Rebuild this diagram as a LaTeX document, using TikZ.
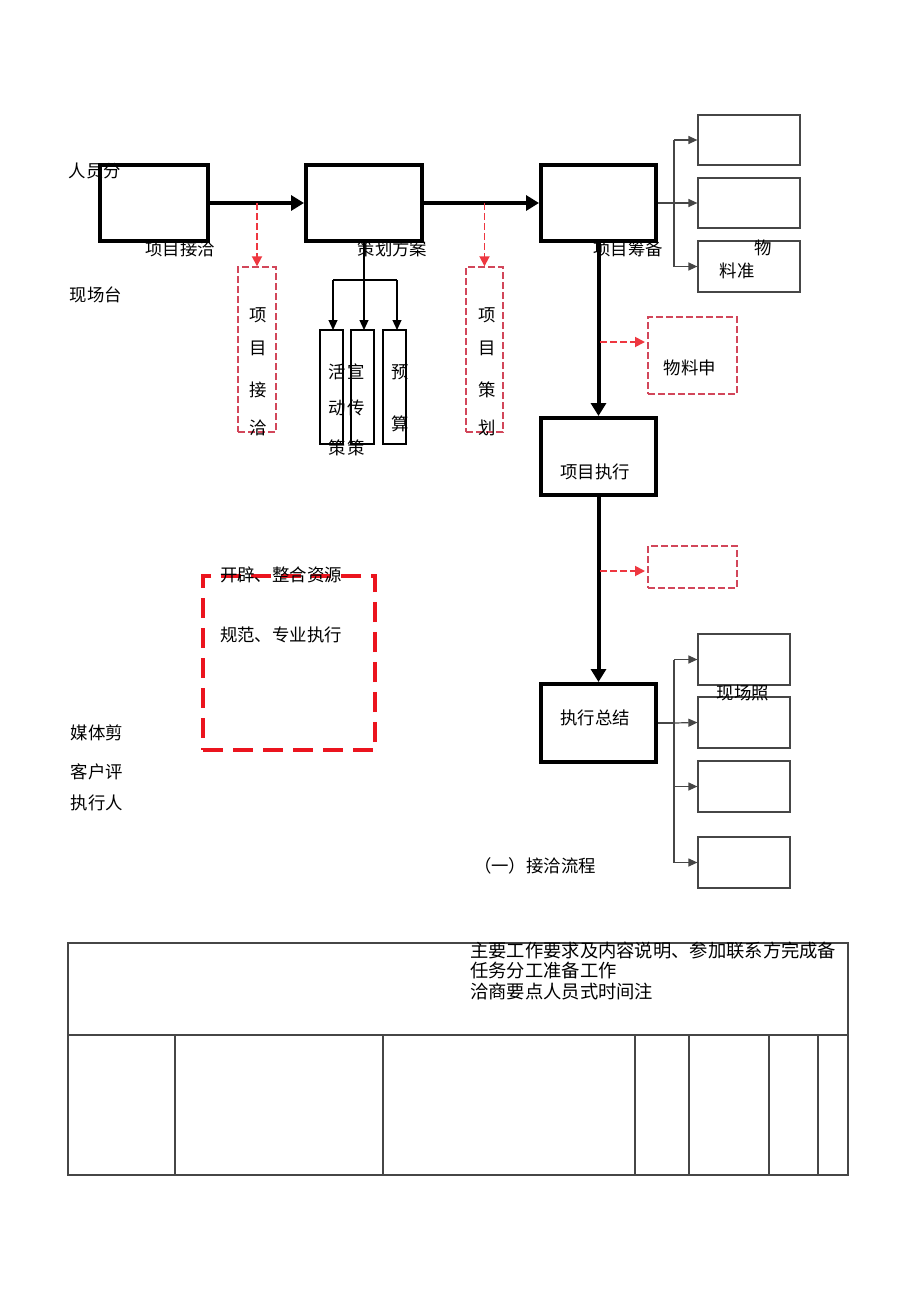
\documentclass[tikz,border=0pt]{standalone}
\usepackage{fontspec}
\newfontfamily\cjk{Noto Sans CJK SC}
\usetikzlibrary{arrows.meta,calc}
\definecolor{dred}{RGB}{210,70,90}
\definecolor{bred}{RGB}{235,20,30}
\definecolor{lgray}{RGB}{70,70,70}
\begin{document}
\begin{tikzpicture}[x=1pt,y=-1pt,
  every node/.style={font=\cjk\fontsize{17.4}{20}\selectfont},
  txt/.style={inner sep=0pt},
  thickbox/.style={draw,line width=4pt,inner sep=0pt,fill=white},
  thinbox/.style={draw=lgray,line width=1.2pt,inner sep=0pt},
  subbox/.style={draw,line width=1.1pt,inner sep=0pt},
  redbox/.style={draw=dred,line width=1.4pt,dash pattern=on 7pt off 3pt,inner sep=0pt},
  bigred/.style={draw=bred,line width=3.5pt,dash pattern=on 20pt off 10pt,inner sep=0pt},
  thickarrow/.style={line width=4pt,-{Triangle[length=13pt,width=15pt]}},
  thickline/.style={line width=4pt},
  thinarrow/.style={draw=lgray,line width=1.2pt,-{Triangle[length=9pt,width=8pt]}},
  thinline/.style={draw=lgray,line width=1.2pt},
  redarrow/.style={draw=bred!85!white,line width=1.8pt,dash pattern=on 7pt off 3pt,-{Triangle[length=10pt,width=10pt]}}
]
\useasboundingbox (0,0) rectangle (920,1303);
\fill[white] (0,0) rectangle (920,1303);

% main boxes
\node[thickbox,minimum width=108pt,minimum height=76pt] (A) at (154,203) {};
\node[thickbox,minimum width=116pt,minimum height=76pt] (B) at (364,203) {};
\node[thickbox,minimum width=115pt,minimum height=76pt] (C) at (598.5,203) {};
\node[thickbox,minimum width=115pt,minimum height=77pt] (D) at (598.5,456.5) {};
\node[thickbox,minimum width=115pt,minimum height=78pt] (E) at (598.5,723) {};

% right boxes top
\node[thinbox,minimum width=102pt,minimum height=50pt] (R1) at (749,140) {};
\node[thinbox,minimum width=102pt,minimum height=50pt] (R2) at (749,203) {};
\node[thinbox,minimum width=102pt,minimum height=51pt] (R3) at (749,266.5) {};

% sub boxes under B
\node[subbox,minimum width=23pt,minimum height=114pt] (S1) at (331.5,387) {};
\node[subbox,minimum width=23pt,minimum height=114pt] (S2) at (362.5,387) {};
\node[subbox,minimum width=23pt,minimum height=114pt] (S3) at (394.5,387) {};

% red dashed boxes
\node[redbox,minimum width=38pt,minimum height=165pt] (P1) at (257,349.5) {};
\node[redbox,minimum width=37pt,minimum height=165pt] (P2) at (484.5,349.5) {};
\node[redbox,minimum width=89pt,minimum height=77pt] (Q1) at (692.5,355.5) {};
\node[redbox,minimum width=89pt,minimum height=42pt] (Q2) at (692.5,567) {};

% bottom right boxes
\node[thinbox,minimum width=92pt,minimum height=51pt] (T1) at (744,659.5) {};
\node[thinbox,minimum width=92pt,minimum height=51pt] (T2) at (744,722.5) {};
\node[thinbox,minimum width=92pt,minimum height=51pt] (T3) at (744,786.5) {};
\node[thinbox,minimum width=92pt,minimum height=51pt] (T4) at (744,862.5) {};

% big red dashed box
\node[bigred,minimum width=172pt,minimum height=174pt] (G) at (289,663) {};

% connectors main
\draw[thickarrow] (A.east) -- (B.west);
\draw[thickarrow] (B.east) -- (C.west);
\draw[thickarrow] (C.south) -- (D.north);
\draw[thickarrow] (D.south) -- (E.north);

% red arrows
\draw[redarrow] (P1.north |- A.east) -- (P1.north);
\draw[redarrow] (P2.north |- B.east) -- (P2.north);
\coordinate (q1s) at (600,342);
\coordinate (q1t) at (645,342);
\draw[redarrow] (q1s) -- (q1t);
\coordinate (q2s) at (600,571);
\coordinate (q2t) at (645,571);
\draw[redarrow] (q2s) -- (q2t);

% branch C -> R
\coordinate (jC) at (674,203);
\draw[thinline] (C.east) -- (jC);
\draw[thinline] (674,140) -- (674,266.5);
\draw[thinarrow] (jC |- R1.west) -- (R1.west);
\draw[thinarrow] (jC) -- (R2.west);
\draw[thinarrow] (jC |- R3.west) -- (R3.west);

% branch B -> S
\coordinate (bj) at (364,280);
\draw[line width=1.2pt] (B.south) -- (bj);
\draw[line width=1.2pt] (333,280) -- (397,280);
\draw[line width=1.2pt,-{Triangle[length=10pt,width=9pt]}] (333,280) -- (333,330);
\draw[line width=1.2pt,-{Triangle[length=10pt,width=9pt]}] (bj) -- (364,330);
\draw[line width=1.2pt,-{Triangle[length=10pt,width=9pt]}] (397,280) -- (397,330);

% branch E -> T
\coordinate (jE) at (674,723);
\draw[thinline] (E.east) -- (jE);
\draw[thinline] (674,659.5) -- (674,862.5);
\draw[thinarrow] (jE |- T1.west) -- (T1.west);
\draw[thinarrow] (jE) -- (T2.west);
\draw[thinarrow] (jE |- T3.west) -- (T3.west);
\draw[thinarrow] (jE |- T4.west) -- (T4.west);

% labels main
\node[txt] (lA) at (180,249) {项目接洽};
\node[txt] (lB) at (392.5,249) {策划方案};
\node[txt] (lC) at (628,249) {项目筹备};
\node[txt] (lD) at (595,472) {项目执行};
\node[txt] (lE) at (595,718) {执行总结};
\node[txt] (lR3a) at (763,248) {物};
\node[txt] (lR3b) at (737,271) {料准};
\node[txt] (lQ1) at (690,368) {物料申};
\node[txt] (lT) at (743,693) {现场照};

% vertical texts
\node[txt] at (258,315) {项};
\node[txt] at (258,348) {目};
\node[txt] at (258,390) {接};
\node[txt] at (258,428) {洽};
\node[txt] at (487,315) {项};
\node[txt] at (487,348) {目};
\node[txt] at (487,390) {策};
\node[txt] at (487,428) {划};
\node[txt] at (337,372) {活};
\node[txt] at (356,372) {宣};
\node[txt] at (337,408) {动};
\node[txt] at (356,408) {传};
\node[txt] at (337,448) {策};
\node[txt] at (356,448) {策};
\node[txt] at (400,372) {预};
\node[txt] at (400,424) {算};

% left texts
\node[txt] at (95,171) {人员分};
\node[txt] at (96,295) {现场台};
\node[txt] at (97,733) {媒体剪};
\node[txt] at (97,772) {客户评};
\node[txt] at (97,803) {执行人};

% big box texts
\node[txt] at (281,575) {开辟、整合资源};
\node[txt] at (281,635) {规范、专业执行};

\node[txt] at (535,866) {（一）接洽流程};

% table
\draw[line width=1.1pt,draw=lgray] (68,943) rectangle (848,1175);
\draw[line width=1.1pt,draw=lgray] (68,1035) -- (848,1035);
\foreach \xx in {175,383,635,689,769,818} {
  \draw[line width=1.1pt,draw=lgray] (\xx,1035) -- (\xx,1175);
}
\node[txt,anchor=west,font=\cjk\fontsize{18.3}{20}\selectfont] at (470,951) {主要工作要求及内容说明、参加联系方完成备};
\node[txt,anchor=west,font=\cjk\fontsize{18.3}{20}\selectfont] at (470,971) {任务分工准备工作};
\node[txt,anchor=west,font=\cjk\fontsize{18.3}{20}\selectfont] at (470,992) {洽商要点人员式时间注};
\end{tikzpicture}
\end{document}
